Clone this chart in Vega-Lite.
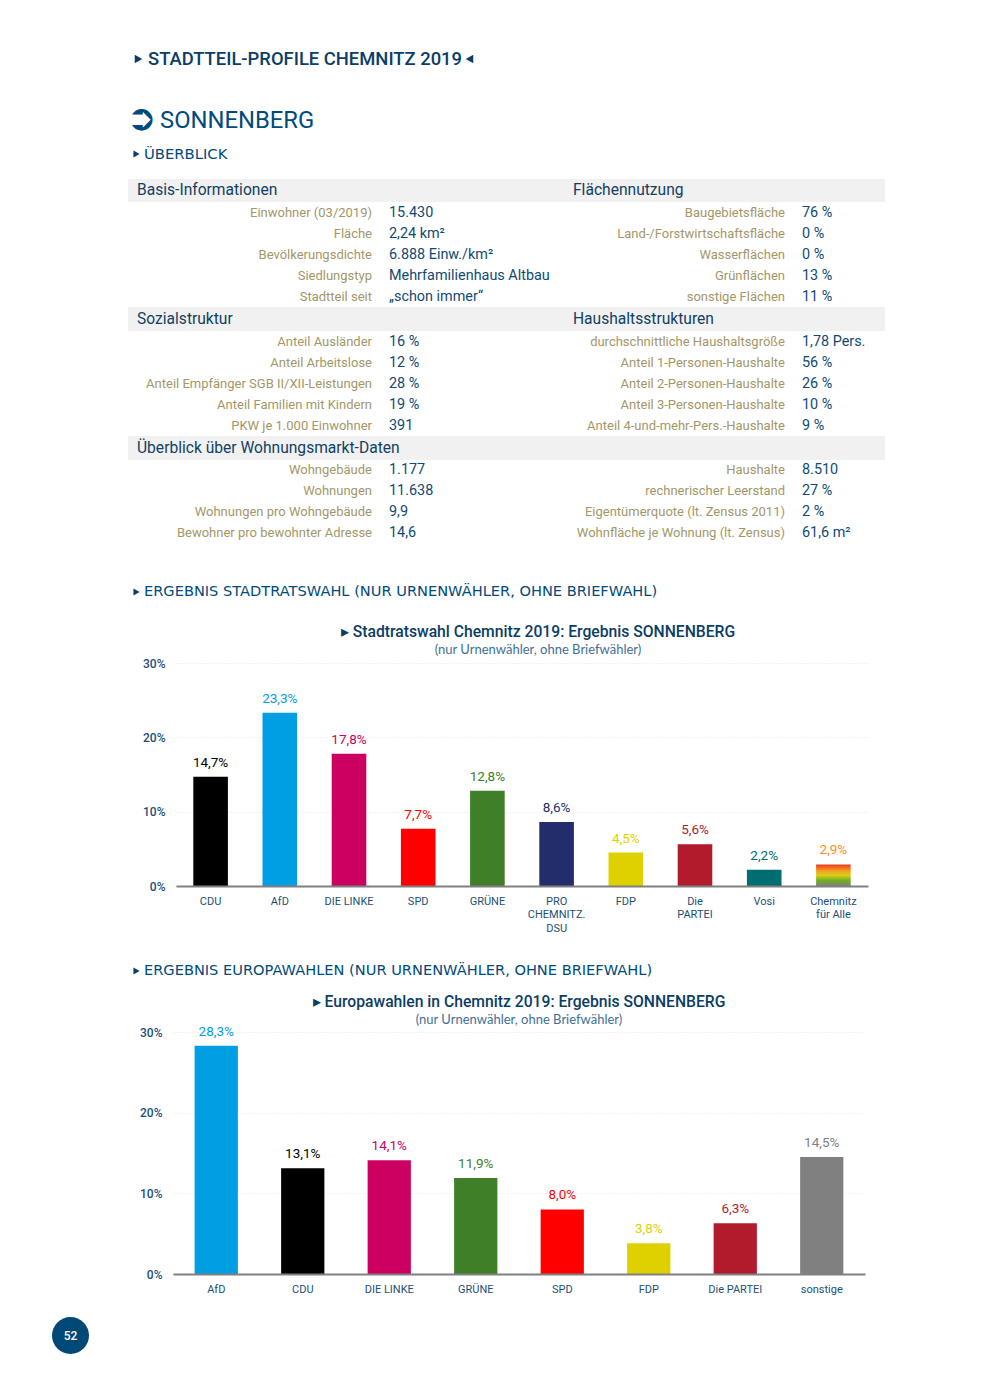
{
"$schema":"https://vega.github.io/schema/vega-lite/v6.json",
"padding":0,
"background":"white",
"config":{"view":{"stroke":null},"font":"Roboto"},
"datasets":{
"head":[
{"line":1,"slot":5,"element":"banner","text":"STADTTEIL-PROFILE CHEMNITZ 2019"},
{"line":2,"slot":6,"element":"district","text":"SONNENBERG"},
{"line":2,"slot":3,"element":"icon","text":"➲"},
{"line":3,"slot":4,"element":"overview","text":"ÜBERBLICK"}
],
"marks":[
{"line":1,"slot":2,"element":"banner","pointing":"rechts"},
{"line":1,"slot":7,"element":"banner","pointing":"links"},
{"line":3,"slot":1,"element":"overview","pointing":"rechts"}
],
"bands":[
{"section":"basis","side":1,"text":"Basis-Informationen"},
{"section":"basis","side":2,"text":"Flächennutzung"},
{"section":"sozial","side":1,"text":"Sozialstruktur"},
{"section":"sozial","side":2,"text":"Haushaltsstrukturen"},
{"section":"wohnen","side":1,"text":"Überblick über Wohnungsmarkt-Daten"}
],
"table":[
{"section":"basis","row":1,"col":1,"text":"Einwohner (03/2019)"},{"section":"basis","row":1,"col":2,"text":"15.430"},{"section":"basis","row":1,"col":3,"text":"Baugebietsfläche"},{"section":"basis","row":1,"col":4,"text":"76 %"},
{"section":"basis","row":2,"col":1,"text":"Fläche"},{"section":"basis","row":2,"col":2,"text":"2,24 km²"},{"section":"basis","row":2,"col":3,"text":"Land-/Forstwirtschaftsfläche"},{"section":"basis","row":2,"col":4,"text":"0 %"},
{"section":"basis","row":3,"col":1,"text":"Bevölkerungsdichte"},{"section":"basis","row":3,"col":2,"text":"6.888 Einw./km²"},{"section":"basis","row":3,"col":3,"text":"Wasserflächen"},{"section":"basis","row":3,"col":4,"text":"0 %"},
{"section":"basis","row":4,"col":1,"text":"Siedlungstyp"},{"section":"basis","row":4,"col":2,"text":"Mehrfamilienhaus Altbau"},{"section":"basis","row":4,"col":3,"text":"Grünflächen"},{"section":"basis","row":4,"col":4,"text":"13 %"},
{"section":"basis","row":5,"col":1,"text":"Stadtteil seit"},{"section":"basis","row":5,"col":2,"text":"„schon immer“"},{"section":"basis","row":5,"col":3,"text":"sonstige Flächen"},{"section":"basis","row":5,"col":4,"text":"11 %"},
{"section":"sozial","row":1,"col":1,"text":"Anteil Ausländer"},{"section":"sozial","row":1,"col":2,"text":"16 %"},{"section":"sozial","row":1,"col":3,"text":"durchschnittliche Haushaltsgröße"},{"section":"sozial","row":1,"col":4,"text":"1,78 Pers."},
{"section":"sozial","row":2,"col":1,"text":"Anteil Arbeitslose"},{"section":"sozial","row":2,"col":2,"text":"12 %"},{"section":"sozial","row":2,"col":3,"text":"Anteil 1-Personen-Haushalte"},{"section":"sozial","row":2,"col":4,"text":"56 %"},
{"section":"sozial","row":3,"col":1,"text":"Anteil Empfänger SGB II/XII-Leistungen"},{"section":"sozial","row":3,"col":2,"text":"28 %"},{"section":"sozial","row":3,"col":3,"text":"Anteil 2-Personen-Haushalte"},{"section":"sozial","row":3,"col":4,"text":"26 %"},
{"section":"sozial","row":4,"col":1,"text":"Anteil Familien mit Kindern"},{"section":"sozial","row":4,"col":2,"text":"19 %"},{"section":"sozial","row":4,"col":3,"text":"Anteil 3-Personen-Haushalte"},{"section":"sozial","row":4,"col":4,"text":"10 %"},
{"section":"sozial","row":5,"col":1,"text":"PKW je 1.000 Einwohner"},{"section":"sozial","row":5,"col":2,"text":"391"},{"section":"sozial","row":5,"col":3,"text":"Anteil 4-und-mehr-Pers.-Haushalte"},{"section":"sozial","row":5,"col":4,"text":"9 %"},
{"section":"wohnen","row":1,"col":1,"text":"Wohngebäude"},{"section":"wohnen","row":1,"col":2,"text":"1.177"},{"section":"wohnen","row":1,"col":3,"text":"Haushalte"},{"section":"wohnen","row":1,"col":4,"text":"8.510"},
{"section":"wohnen","row":2,"col":1,"text":"Wohnungen"},{"section":"wohnen","row":2,"col":2,"text":"11.638"},{"section":"wohnen","row":2,"col":3,"text":"rechnerischer Leerstand"},{"section":"wohnen","row":2,"col":4,"text":"27 %"},
{"section":"wohnen","row":3,"col":1,"text":"Wohnungen pro Wohngebäude"},{"section":"wohnen","row":3,"col":2,"text":"9,9"},{"section":"wohnen","row":3,"col":3,"text":"Eigentümerquote (lt. Zensus 2011)"},{"section":"wohnen","row":3,"col":4,"text":"2 %"},
{"section":"wohnen","row":4,"col":1,"text":"Bewohner pro bewohnter Adresse"},{"section":"wohnen","row":4,"col":2,"text":"14,6"},{"section":"wohnen","row":4,"col":3,"text":"Wohnfläche je Wohnung (lt. Zensus)"},{"section":"wohnen","row":4,"col":4,"text":"61,6 m²"}
],
"stadtrat":[
{"party":"CDU","value":14.7,"label":"14,7%"},{"party":"AfD","value":23.3,"label":"23,3%"},{"party":"DIE LINKE","value":17.8,"label":"17,8%"},{"party":"SPD","value":7.7,"label":"7,7%"},{"party":"GRÜNE","value":12.8,"label":"12,8%"},{"party":"PRO CHEMNITZ. DSU","value":8.6,"label":"8,6%"},{"party":"FDP","value":4.5,"label":"4,5%"},{"party":"Die PARTEI","value":5.6,"label":"5,6%"},{"party":"Vosi","value":2.2,"label":"2,2%"},{"party":"Chemnitz für Alle","value":2.9,"label":"2,9%"}
],
"europa":[
{"party":"AfD","value":28.3,"label":"28,3%"},{"party":"CDU","value":13.1,"label":"13,1%"},{"party":"DIE LINKE","value":14.1,"label":"14,1%"},{"party":"GRÜNE","value":11.9,"label":"11,9%"},{"party":"SPD","value":8.0,"label":"8,0%"},{"party":"FDP","value":3.8,"label":"3,8%"},{"party":"Die PARTEI","value":6.3,"label":"6,3%"},{"party":"sonstige","value":14.5,"label":"14,5%"}
],
"sections":[
{"block":"stadtrat","slot":1,"line":1,"pointing":"rechts","text":"ERGEBNIS STADTRATSWAHL (NUR URNENWÄHLER, OHNE BRIEFWAHL)"},
{"block":"europa","slot":1,"line":1,"pointing":"rechts","text":"ERGEBNIS EUROPAWAHLEN (NUR URNENWÄHLER, OHNE BRIEFWAHL)"}
],
"page":[{"text":"52"}]
},
"vconcat":[
{"width":990,"height":179,"layer":[
{"data":{"name":"head"},"transform":[{"filter":"datum.element=='banner'"}],"mark":{"type":"text","align":"left","baseline":"middle","fontSize":18.4,"fontWeight":500,"font":"Roboto","color":"#0b3d66"},"encoding":{"x":{"field":"slot","type":"quantitative","axis":null,"scale":{"zero":false,"nice":false,"domain":[1,2,3,4,5,6,7],"range":[136.5,138.5,141.5,144,148,160,469.5]}},"y":{"field":"line","type":"quantitative","axis":null,"scale":{"zero":false,"nice":false,"domain":[1,2,3],"range":[59,121,154]}},"text":{"field":"text"}}},
{"data":{"name":"head"},"transform":[{"filter":"datum.element=='district'"}],"mark":{"type":"text","align":"left","baseline":"middle","fontSize":23.8,"font":"Roboto","color":"#004a7c"},"encoding":{"x":{"field":"slot","type":"quantitative"},"y":{"field":"line","type":"quantitative"},"text":{"field":"text"}}},
{"data":{"name":"head"},"transform":[{"filter":"datum.element=='icon'"}],"mark":{"type":"text","align":"center","baseline":"middle","fontSize":36,"font":"DejaVu Sans","color":"#004a7c","dy":-2},"encoding":{"x":{"field":"slot","type":"quantitative"},"y":{"field":"line","type":"quantitative"},"text":{"field":"text"}}},
{"data":{"name":"head"},"transform":[{"filter":"datum.element=='overview'"}],"mark":{"type":"text","align":"left","baseline":"middle","fontSize":14.8,"font":"DejaVu Sans","color":"#004a7c","dy":1},"encoding":{"x":{"field":"slot","type":"quantitative"},"y":{"field":"line","type":"quantitative"},"text":{"field":"text"}}},
{"data":{"name":"marks"},"transform":[{"filter":"datum.element=='banner'"}],"mark":{"type":"point","filled":true,"size":75,"color":"#0b3d66","opacity":1},"encoding":{"x":{"field":"slot","type":"quantitative"},"y":{"field":"line","type":"quantitative"},"shape":{"field":"pointing","type":"nominal","legend":null,"scale":{"domain":["rechts","links"],"range":["triangle-right","triangle-left"]}}}},
{"data":{"name":"marks"},"transform":[{"filter":"datum.element=='overview'"}],"mark":{"type":"point","filled":true,"size":50,"color":"#0b3d66","opacity":1},"encoding":{"x":{"field":"slot","type":"quantitative"},"y":{"field":"line","type":"quantitative"},"shape":{"field":"pointing","type":"nominal","legend":null,"scale":{"domain":["rechts","links"],"range":["triangle-right","triangle-left"]}}}}
]},
{"hconcat":[
{"width":128,"height":23,"data":{"values":[]},"mark":"text"},
{"width":757,"height":23,"view":{"fill":"#f1f1f1","stroke":null},"data":{"name":"bands"},"transform":[{"filter":"datum.section=='basis'"}],"mark":{"type":"text","align":"left","baseline":"middle","fontSize":15.6,"fontWeight":400,"font":"Roboto","color":"#123f63","dy":-1},"encoding":{"x":{"field":"side","type":"quantitative","axis":null,"scale":{"zero":false,"nice":false,"domain":[1,2],"range":[9,445]}},"text":{"field":"text"}}}
],"spacing":0,"bounds":"flush"},
{"hconcat":[
{"width":128,"height":105,"data":{"values":[]},"mark":"text"},
{"width":757,"height":105,"data":{"name":"table"},"transform":[{"filter":"datum.section=='basis'"}],"encoding":{"x":{"field":"col","type":"quantitative","axis":null,"scale":{"zero":false,"nice":false,"domain":[1,2,3,4],"range":[244,261,657,674]}},"y":{"field":"row","type":"ordinal","axis":null},"text":{"field":"text"}},"layer":[
{"transform":[{"filter":"datum.col==1||datum.col==3"}],"mark":{"type":"text","align":"right","baseline":"middle","fontSize":13,"font":"Roboto","color":"#a39768","dy":0.5}},
{"transform":[{"filter":"datum.col==2||datum.col==4"}],"mark":{"type":"text","align":"left","baseline":"middle","fontSize":14.4,"font":"Roboto","color":"#0f4a75","dy":0.5}}
]}
],"spacing":0,"bounds":"flush"},
{"hconcat":[
{"width":128,"height":24,"data":{"values":[]},"mark":"text"},
{"width":757,"height":24,"view":{"fill":"#f1f1f1","stroke":null},"data":{"name":"bands"},"transform":[{"filter":"datum.section=='sozial'"}],"mark":{"type":"text","align":"left","baseline":"middle","fontSize":15.6,"fontWeight":400,"font":"Roboto","color":"#123f63","dy":-0.5},"encoding":{"x":{"field":"side","type":"quantitative","axis":null,"scale":{"zero":false,"nice":false,"domain":[1,2],"range":[9,445]}},"text":{"field":"text"}}}
],"spacing":0,"bounds":"flush"},
{"hconcat":[
{"width":128,"height":105,"data":{"values":[]},"mark":"text"},
{"width":757,"height":105,"data":{"name":"table"},"transform":[{"filter":"datum.section=='sozial'"}],"encoding":{"x":{"field":"col","type":"quantitative","axis":null,"scale":{"zero":false,"nice":false,"domain":[1,2,3,4],"range":[244,261,657,674]}},"y":{"field":"row","type":"ordinal","axis":null},"text":{"field":"text"}},"layer":[
{"transform":[{"filter":"datum.col==1||datum.col==3"}],"mark":{"type":"text","align":"right","baseline":"middle","fontSize":13,"font":"Roboto","color":"#a39768","dy":0.5}},
{"transform":[{"filter":"datum.col==2||datum.col==4"}],"mark":{"type":"text","align":"left","baseline":"middle","fontSize":14.4,"font":"Roboto","color":"#0f4a75","dy":0.5}}
]}
],"spacing":0,"bounds":"flush"},
{"hconcat":[
{"width":128,"height":24,"data":{"values":[]},"mark":"text"},
{"width":757,"height":24,"view":{"fill":"#f1f1f1","stroke":null},"data":{"name":"bands"},"transform":[{"filter":"datum.section=='wohnen'"}],"mark":{"type":"text","align":"left","baseline":"middle","fontSize":15.6,"fontWeight":400,"font":"Roboto","color":"#123f63","dy":-0.5},"encoding":{"x":{"field":"side","type":"quantitative","axis":null,"scale":{"zero":false,"nice":false,"domain":[1,2],"range":[9,445]}},"text":{"field":"text"}}}
],"spacing":0,"bounds":"flush"},
{"hconcat":[
{"width":128,"height":84,"data":{"values":[]},"mark":"text"},
{"width":757,"height":84,"data":{"name":"table"},"transform":[{"filter":"datum.section=='wohnen'"}],"encoding":{"x":{"field":"col","type":"quantitative","axis":null,"scale":{"zero":false,"nice":false,"domain":[1,2,3,4],"range":[244,261,657,674]}},"y":{"field":"row","type":"ordinal","axis":null},"text":{"field":"text"}},"layer":[
{"transform":[{"filter":"datum.col==1||datum.col==3"}],"mark":{"type":"text","align":"right","baseline":"middle","fontSize":13,"font":"Roboto","color":"#a39768","dy":-0.5}},
{"transform":[{"filter":"datum.col==2||datum.col==4"}],"mark":{"type":"text","align":"left","baseline":"middle","fontSize":14.4,"font":"Roboto","color":"#0f4a75","dy":-0.5}}
]}
],"spacing":0,"bounds":"flush"},
{"width":990,"height":80,"data":{"name":"sections"},"transform":[{"filter":"datum.block=='stadtrat'"}],"encoding":{"y":{"field":"line","type":"quantitative","axis":null,"scale":{"zero":false,"nice":false,"domain":[1,2],"range":[48,80]}}},"layer":[
{"mark":{"type":"point","filled":true,"size":50,"color":"#0b3d66","opacity":1},"encoding":{"x":{"field":"slot","type":"quantitative","axis":null,"scale":{"zero":false,"nice":false,"domain":[1,2],"range":[136.5,144]}},"shape":{"field":"pointing","type":"nominal","legend":null,"scale":{"domain":["rechts"],"range":["triangle-right"]}}}},
{"mark":{"type":"text","align":"left","baseline":"middle","fontSize":14.6,"font":"DejaVu Sans","color":"#004a7c","dx":7.5},"encoding":{"x":{"field":"slot","type":"quantitative"},"text":{"field":"text"}}}
]},
{"hconcat":[
{"width":176,"height":223,"data":{"values":[]},"mark":"text"},
{"width":692,"height":223,"title":{"text":"▸ Stadtratswahl Chemnitz 2019: Ergebnis SONNENBERG","subtitle":"(nur Urnenwähler, ohne Briefwähler)","anchor":"middle","dx":16,"offset":-1,"fontSize":15.7,"fontWeight":500,"font":"Roboto","color":"#0b3d66","subtitleFont":"Lato","subtitleFontSize":13,"subtitleColor":"#3f6f96","subtitlePadding":3},"data":{"name":"stadtrat"},
"encoding":{"x":{"field":"party","type":"nominal","title":null,"scale":{"domain":["CDU","AfD","DIE LINKE","SPD","GRÜNE","PRO CHEMNITZ. DSU","FDP","Die PARTEI","Vosi","Chemnitz für Alle"],"paddingInner":0.5,"paddingOuter":0.25},"axis":{"labelAngle":0,"ticks":false,"domainColor":"#808080","domainWidth":2,"labelFont":"Roboto","labelFontSize":11,"labelColor":"#1c4f78","labelPadding":9,"labelLineHeight":13.5,"zindex":1,"labelLimit":0,"labelExpr":"datum.label=='PRO CHEMNITZ. DSU'?['PRO','CHEMNITZ.','DSU']:datum.label=='Die PARTEI'?['Die','PARTEI']:datum.label=='Chemnitz für Alle'?['Chemnitz','für Alle']:datum.label"}},
"y":{"field":"value","type":"quantitative","title":null,"scale":{"domain":[0,30],"nice":false},"axis":{"values":[0,10,20,30],"domain":false,"ticks":false,"labelFont":"Roboto","labelFontSize":12,"labelFontWeight":500,"labelColor":"#1c4f78","labelPadding":11,"gridColor":"#e6e6e6","gridDash":[1,2],"labelExpr":"datum.value+'%'"}}},
"layer":[
{"transform":[{"filter":"datum.party!='Chemnitz für Alle'"}],"mark":{"type":"bar"},"encoding":{"color":{"field":"party","type":"nominal","legend":null,"scale":{"domain":["CDU","AfD","DIE LINKE","SPD","GRÜNE","PRO CHEMNITZ. DSU","FDP","Die PARTEI","Vosi","Chemnitz für Alle","sonstige"],"range":["#000000","#009ee3","#cc0060","#ff0000","#3e7f27","#232d6b","#dfd000","#b21b2b","#006d70","#ff8c1a","#808080"]}}}},
{"transform":[{"filter":"datum.party=='Chemnitz für Alle'"}],"mark":{"type":"bar","color":{"gradient":"linear","x1":0,"y1":0,"x2":0,"y2":1,"stops":[{"offset":0,"color":"#ea3a1f"},{"offset":0.3,"color":"#f3a01f"},{"offset":0.5,"color":"#d8cf1a"},{"offset":0.75,"color":"#6fae1f"},{"offset":1,"color":"#808080"}]}}},
{"mark":{"type":"text","baseline":"bottom","dy":-7,"fontSize":13.5,"font":"Roboto"},"encoding":{"text":{"field":"label"},"color":{"field":"party","type":"nominal","legend":null}}}
]}
],"spacing":0,"bounds":"flush"},
{"width":990,"height":61,"data":{"name":"sections"},"transform":[{"filter":"datum.block=='europa'"}],"encoding":{"y":{"field":"line","type":"quantitative","axis":null,"scale":{"zero":false,"nice":false,"domain":[1,2],"range":[38,61]}}},"layer":[
{"mark":{"type":"point","filled":true,"size":50,"color":"#0b3d66","opacity":1},"encoding":{"x":{"field":"slot","type":"quantitative","axis":null,"scale":{"zero":false,"nice":false,"domain":[1,2],"range":[136.5,144]}},"shape":{"field":"pointing","type":"nominal","legend":null,"scale":{"domain":["rechts"],"range":["triangle-right"]}}}},
{"mark":{"type":"text","align":"left","baseline":"middle","fontSize":14.6,"font":"DejaVu Sans","color":"#004a7c","dx":7.5},"encoding":{"x":{"field":"slot","type":"quantitative"},"text":{"field":"text"}}}
]},
{"hconcat":[
{"width":173,"height":242,"data":{"values":[]},"mark":"text"},
{"width":692,"height":242,"title":{"text":"▸ Europawahlen in Chemnitz 2019: Ergebnis SONNENBERG","subtitle":"(nur Urnenwähler, ohne Briefwähler)","anchor":"middle","dx":0,"offset":-3,"fontSize":15.7,"fontWeight":500,"font":"Roboto","color":"#0b3d66","subtitleFont":"Lato","subtitleFontSize":13,"subtitleColor":"#3f6f96","subtitlePadding":3},"data":{"name":"europa"},
"encoding":{"x":{"field":"party","type":"nominal","title":null,"scale":{"domain":["AfD","CDU","DIE LINKE","GRÜNE","SPD","FDP","Die PARTEI","sonstige"],"paddingInner":0.5,"paddingOuter":0.25},"axis":{"labelAngle":0,"ticks":false,"domainColor":"#808080","domainWidth":2,"labelFont":"Roboto","labelFontSize":11,"labelColor":"#1c4f78","labelPadding":9,"zindex":1,"labelLimit":0}},
"y":{"field":"value","type":"quantitative","title":null,"scale":{"domain":[0,30],"nice":false},"axis":{"values":[0,10,20,30],"domain":false,"ticks":false,"labelFont":"Roboto","labelFontSize":12,"labelFontWeight":500,"labelColor":"#1c4f78","labelPadding":11,"gridColor":"#e6e6e6","gridDash":[1,2],"labelExpr":"datum.value+'%'"}},
"color":{"field":"party","type":"nominal","legend":null,"scale":{"domain":["CDU","AfD","DIE LINKE","SPD","GRÜNE","PRO CHEMNITZ. DSU","FDP","Die PARTEI","Vosi","Chemnitz für Alle","sonstige"],"range":["#000000","#009ee3","#cc0060","#ff0000","#3e7f27","#232d6b","#dfd000","#b21b2b","#006d70","#ff8c1a","#808080"]}}},
"layer":[
{"mark":{"type":"bar"}},
{"mark":{"type":"text","baseline":"bottom","dy":-7,"fontSize":13.5,"font":"Roboto"},"encoding":{"text":{"field":"label"}}}
]}
],"spacing":0,"bounds":"flush"},
{"width":990,"height":23,"data":{"values":[]},"mark":"text"},
{"hconcat":[
{"width":52,"height":37,"data":{"values":[]},"mark":"text"},
{"width":37,"height":37,"data":{"name":"page"},"layer":[
{"mark":{"type":"point","filled":true,"size":1369,"color":"#004876","opacity":1}},
{"mark":{"type":"text","fontSize":12,"fontWeight":500,"font":"Roboto","color":"white","baseline":"middle"},"encoding":{"text":{"field":"text"}}}
]}
],"spacing":0,"bounds":"flush"}
],
"spacing":0
}
